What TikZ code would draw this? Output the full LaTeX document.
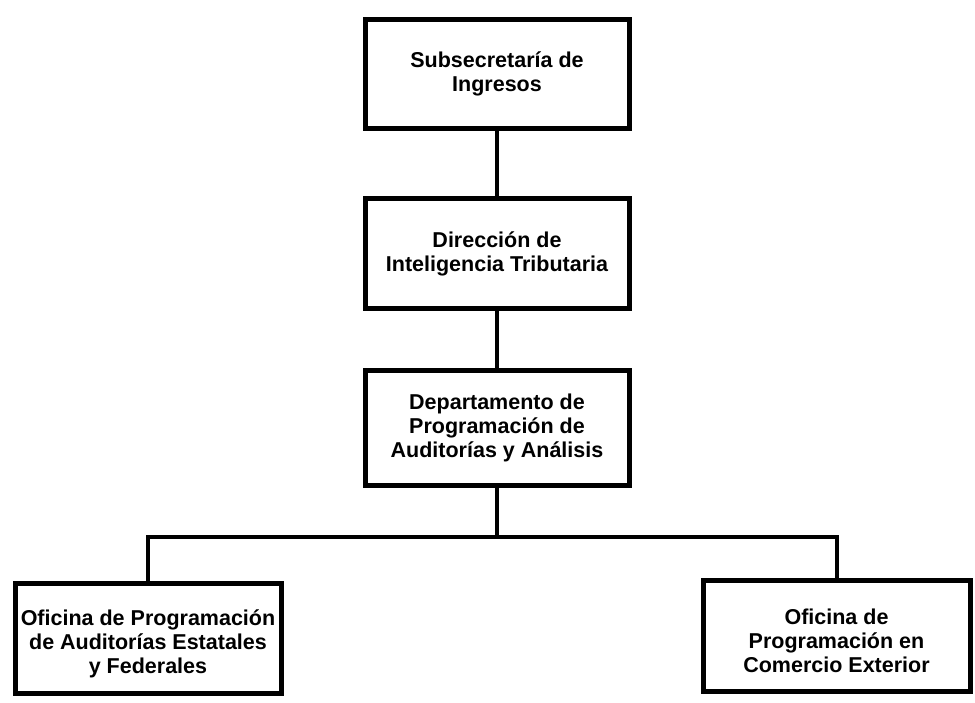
\documentclass[tikz,border=0pt]{standalone}
\usepackage{fontspec}
\setmainfont{Liberation Sans}
\begin{document}
\begin{tikzpicture}[x=1pt,y=-1pt,
  orgbox/.style={draw=black,line width=5pt,rectangle,inner sep=0pt,align=center,
    font=\fontsize{21.5}{24}\selectfont\bfseries},
  conn/.style={draw=black,line width=4pt,line join=miter}]
\useasboundingbox[fill=white] (0,0) rectangle (975,703);
\node[orgbox,minimum width=264pt,minimum height=109pt] (b1) at (497,74) {Subsecretaría de\\Ingresos};
\node[orgbox,minimum width=264pt,minimum height=110pt] (b2) at (497,254) {Dirección de\\Inteligencia Tributaria};
\node[orgbox,minimum width=264pt,minimum height=114pt] (b3) at (497,428) {Departamento de\\Programación de\\Auditorías y Análisis};
\node[orgbox,minimum width=266pt,minimum height=110pt] (b4) at (148,638) {\rule{0pt}{28pt}Oficina de Programación\\de Auditorías Estatales\\y Federales};
\node[orgbox,minimum width=267pt,minimum height=111pt] (b5) at (836.5,635.5) {\rule{0pt}{26pt}Oficina de\\Programación en\\Comercio Exterior};
\coordinate (j) at (497,537);
\draw[conn] (b1.south) -- (b2.north);
\draw[conn] (b2.south) -- (b3.north);
\draw[conn] (b3.south) -- (j);
\draw[conn] (j) -| (b4.north);
\draw[conn] (j) -| (b5.north);
\end{tikzpicture}
\end{document}
